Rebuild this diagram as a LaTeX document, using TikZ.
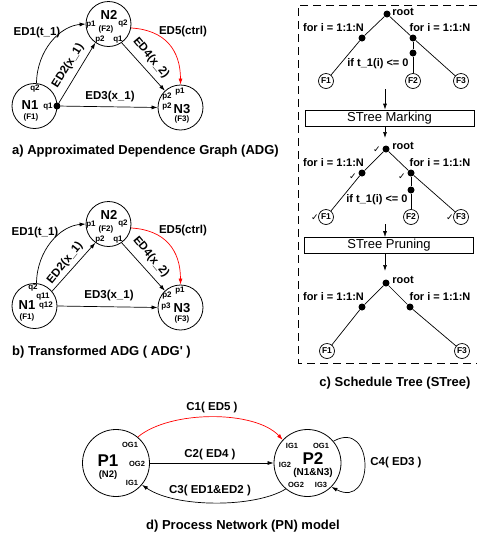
\documentclass[tikz,border=0pt]{standalone}
\usepackage{fontspec}
\setmainfont{Liberation Sans}
\newfontfamily\djv{DejaVu Sans}
\usetikzlibrary{arrows.meta}
\newcommand\fsz[1]{\fontsize{#1}{#1}\selectfont}
\begin{document}
\begin{tikzpicture}[x=1pt,y=-1pt,
  cnode/.style={circle,draw,line width=0.8pt,minimum size=45pt,inner sep=0pt},
  pnode/.style={circle,draw,line width=0.8pt,minimum size=67pt,inner sep=0pt},
  fnode/.style={circle,draw,line width=0.7pt,minimum size=15pt,inner sep=0pt,font=\bfseries\fsz{8.5}},
  blob/.style={circle,fill,minimum size=7pt,inner sep=0pt},
  elbl/.style={font=\bfseries\fsz{11.5},inner sep=0pt},
  nbig/.style={font=\bfseries\fsz{13},inner sep=0pt},
  port/.style={font=\bfseries\fsz{8},inner sep=0pt},
  pport/.style={font=\bfseries\fsz{7.5},inner sep=0pt},
  tlbl/.style={font=\bfseries\fsz{11},inner sep=0pt},
  captxt/.style={font=\bfseries\fsz{13},inner sep=0pt},
  arr/.style={-{Latex[length=6pt,width=4pt]},line width=0.7pt},
  tline/.style={line width=0.7pt},
  stbox/.style={draw,line width=0.7pt,minimum width=169pt,minimum height=16pt,inner sep=0pt,font=\fsz{13}},
  chk/.style={font=\djv\fsz{9},inner sep=0pt},
]
\useasboundingbox (0,0) rectangle (478,539);

% ---------------- a) ADG ----------------
\node[cnode] (aN1) at (34.5,106) {};
\node[cnode] (aN2) at (108.5,24) {};
\node[cnode] (aN3) at (180.5,107.5) {};
\node[nbig] (aN1t) at (30,105) {N1};
\node[port] (aN1f) at (31,117) {(F1)};
\node[port] (aN1q2) at (35,89) {q2};
\node[port] (aN1q1) at (48,107) {q1};
\node[blob] (aQ1) at (57,106) {};
\node[nbig] (aN2t) at (109,15) {N2};
\node[port] (aN2f) at (106,29) {(F2)};
\node[port] (aN2p1) at (91,25) {p1};
\node[port] (aN2q2) at (123,24) {q2};
\node[port] (aN2p2) at (100,40) {p2};
\node[port] (aN2q1) at (118,40) {q1};
\node[nbig] (aN3t) at (182,109) {N3};
\node[port] (aN3f) at (182,119) {(F3)};
\node[port] (aN3p2a) at (167,97) {p2};
\node[port] (aN3p1) at (180,92) {p1};
\node[port] (aN3p2b) at (167,107) {p2};

\draw[arr] (aN1.85) .. controls (37,50) and (60,26) .. (aN2.180);
\draw[arr] (aQ1) -- (aN2.235);
\draw[arr] (aQ1) -- (aN3.180);
\draw[arr] (aN2.305) -- (aN3.133);
\draw[arr,red] (aN2.350) .. controls (165,30) and (180.5,50) .. (aN3.90);
\node[elbl] (aE1) at (37,33) {ED1(t\_1)};
\node[elbl,rotate=58] (aE2) at (68,66) {ED2(x\_1)};
\node[elbl] (aE3) at (110,97) {ED3(x\_1)};
\node[elbl,rotate=-50] (aE4) at (151,58) {ED4(x\_2)};
\node[elbl] (aE5) at (183,32) {ED5(ctrl)};
\node[captxt,anchor=west] (capa) at (12,151) {a) Approximated Dependence Graph (ADG)};

% ---------------- b) ADG' ----------------
\node[cnode] (bN1) at (34.5,306) {};
\node[cnode] (bN2) at (108.5,224) {};
\node[cnode] (bN3) at (180.5,307.5) {};
\node[nbig] (bN1t) at (27,305) {N1};
\node[port] (bN1f) at (27,317) {(F1)};
\node[port] (bN1q2) at (33,288) {q2};
\node[port] (bN1q11) at (43,297) {q11};
\node[port] (bN1q12) at (46,306) {q12};
\node[nbig] (bN2t) at (109,215) {N2};
\node[port] (bN2f) at (106,229) {(F2)};
\node[port] (bN2p1) at (91,225) {p1};
\node[port] (bN2q2) at (123,224) {q2};
\node[port] (bN2p2) at (100,240) {p2};
\node[port] (bN2q1) at (118,240) {q1};
\node[nbig] (bN3t) at (182,308) {N3};
\node[port] (bN3f) at (182,319) {(F3)};
\node[port] (bN3p2) at (167,296) {p2};
\node[port] (bN3p1) at (180,291) {p1};
\node[port] (bN3p3) at (166,307) {p3};

\draw[arr] (bN1.85) .. controls (37,250) and (60,226) .. (bN2.180);
\draw[arr] (bN1.40) -- (bN2.235);
\draw[arr] (bN1.0) -- (bN3.180);
\draw[arr] (bN2.305) -- (bN3.133);
\draw[arr,red] (bN2.350) .. controls (165,230) and (180.5,250) .. (bN3.90);
\node[elbl] (bE1) at (35,233) {ED1(t\_1)};
\node[elbl,rotate=51] (bE2) at (65,263) {ED2(x\_1)};
\node[elbl] (bE3) at (109,296) {ED3(x\_1)};
\node[elbl,rotate=-50] (bE4) at (151,257) {ED4(x\_2)};
\node[elbl] (bE5) at (183,231) {ED5(ctrl)};
\node[captxt,anchor=west] (capb) at (12,352) {b) Transformed ADG ( ADG\textquotesingle\ )};

% ---------------- c) STree ----------------
\draw[dash pattern=on 8pt off 5pt,line width=0.8pt] (477,5) -- (298,5) -- (298,363) -- (477,363);

% tree 1
\node[blob] (t1r) at (387,14) {};
\node[blob] (t1L) at (362,38) {};
\node[blob] (t1R) at (413,38) {};
\node[blob] (t1M) at (413,53) {};
\node[fnode] (t1F1) at (326,81) {F1};
\node[fnode] (t1F2) at (413,81) {F2};
\node[fnode] (t1F3) at (461,81) {F3};
\draw[tline] (t1r) -- (t1L) -- (t1F1);
\draw[tline] (t1r) -- (t1R) -- (t1F3);
\draw[tline] (t1R) -- (t1M) -- (t1F2);
\node[tlbl] (t1rt) at (403,12) {root};
\node[tlbl] (t1fl) at (333.5,28) {for i = 1:1:N};
\node[tlbl] (t1fr) at (440,28) {for i = 1:1:N};
\node[tlbl] (t1if) at (378,64) {if t\_1(i) <= 0};

\node[stbox] (mark) at (389.5,118) {STree Marking};
\coordinate (c1) at (385,89);
\coordinate (c2) at (385,138);
\draw[arr] (c1) -- (c1 |- mark.north);
\draw[arr] (c2 |- mark.south) -- (c2);

% tree 2
\node[blob] (t2r) at (386,149) {};
\node[blob] (t2L) at (362,173) {};
\node[blob] (t2R) at (411,173) {};
\node[blob] (t2M) at (411,190) {};
\node[fnode] (t2F1) at (326,217) {F1};
\node[fnode] (t2F2) at (411,217) {F2};
\node[fnode] (t2F3) at (461,217) {F3};
\draw[tline] (t2r) -- (t2L) -- (t2F1);
\draw[tline] (t2r) -- (t2R) -- (t2F3);
\draw[tline] (t2R) -- (t2M) -- (t2F2);
\node[tlbl] (t2rt) at (403,146) {root};
\node[tlbl] (t2fl) at (333.5,163) {for i = 1:1:N};
\node[tlbl] (t2fr) at (440,163) {for i = 1:1:N};
\node[tlbl] (t2if) at (377,200) {if t\_1(i) <= 0};
\node[chk] (k1) at (377,150) {✓};
\node[chk] (k2) at (353,177) {✓};
\node[chk] (k3) at (402,177) {✓};
\node[chk] (k4) at (315,218) {✓};
\node[chk] (k5) at (450,218) {✓};

\node[stbox] (prune) at (389,245.5) {STree Pruning};
\coordinate (c3) at (385,224);
\coordinate (c4) at (385,271);
\draw[arr] (c3) -- (c3 |- prune.north);
\draw[arr] (c4 |- prune.south) -- (c4);

% tree 3
\node[blob] (t3r) at (386,283) {};
\node[blob] (t3L) at (362,307) {};
\node[blob] (t3R) at (410,307) {};
\node[fnode] (t3F1) at (327,351) {F1};
\node[fnode] (t3F3) at (462,351) {F3};
\draw[tline] (t3r) -- (t3L) -- (t3F1);
\draw[tline] (t3r) -- (t3R) -- (t3F3);
\node[tlbl] (t3rt) at (403,280) {root};
\node[tlbl] (t3fl) at (333.5,297) {for i = 1:1:N};
\node[tlbl] (t3fr) at (440,297) {for i = 1:1:N};

\node[captxt] (capc) at (395,383) {c) Schedule Tree (STree)};

% ---------------- d) PN ----------------
\node[pnode] (P1) at (116,463) {};
\node[pnode] (P2) at (307.5,463) {};
\node[font=\bfseries\fsz{17},inner sep=0pt] (P1t) at (108,461) {P1};
\node[font=\bfseries\fsz{9.5},inner sep=0pt] (P1n) at (108,475) {(N2)};
\node[pport] (P1o1) at (130,445) {OG1};
\node[pport] (P1o2) at (137,464) {OG2};
\node[pport] (P1i1) at (132,483) {IG1};
\node[font=\bfseries\fsz{17},inner sep=0pt] (P2t) at (313,459) {P2};
\node[font=\bfseries\fsz{10},inner sep=0pt] (P2n) at (313,473) {(N1\&N3)};
\node[pport] (P2i1) at (292,446) {IG1};
\node[pport] (P2o1) at (321,446) {OG1};
\node[pport] (P2i2) at (285,465) {IG2};
\node[pport] (P2o2) at (296,485) {OG2};
\node[pport] (P2i3) at (321,485) {IG3};

\draw[arr,red] (P1.50) .. controls (170,410) and (255,410) .. (P2.137);
\draw[arr] (P1.0) -- (P2.180);
\draw[arr] (P2.230) .. controls (255,508) and (175,508) .. (P1.320);
\draw[arr] (P2.40) .. controls (375,418) and (375,510) .. (P2.-45);
\node[elbl] (C1) at (212,408) {C1( ED5 )};
\node[elbl] (C2) at (210,455) {C2( ED4 )};
\node[elbl] (C3) at (210,491) {C3( ED1\&ED2 )};
\node[elbl] (C4) at (396,463) {C4( ED3 )};
\node[captxt] (capd) at (243,526) {d) Process Network (PN) model};
\end{tikzpicture}
\end{document}
